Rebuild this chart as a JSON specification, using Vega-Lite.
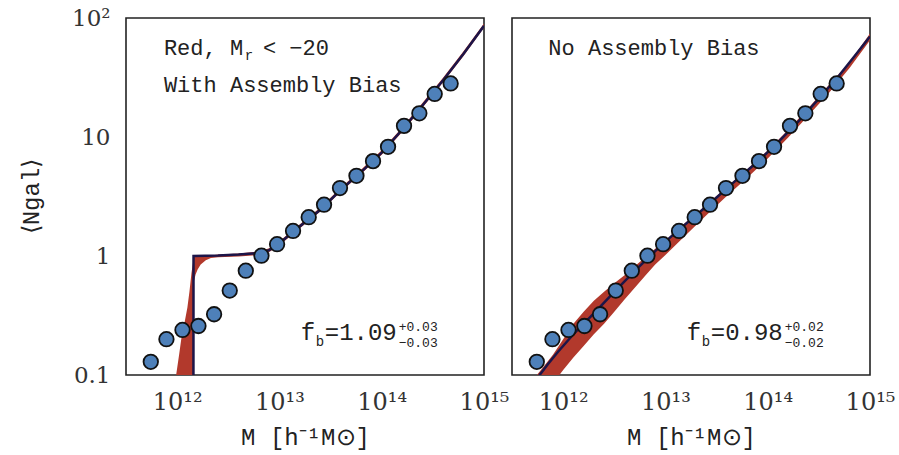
{
  "$schema": "https://vega.github.io/schema/vega-lite/v6.json",
  "background": "white",
  "padding": {"left": 18, "top": 6, "right": 5, "bottom": 5},
  "spacing": 28,
  "bounds": "flush",
  "config": {
    "view": {"stroke": "#222", "strokeWidth": 1.6},
    "axis": {"ticks": false, "labelFont": "DejaVu Serif", "labelColor": "#333", "titleFont": "Liberation Mono", "titleFontSize": 24, "titleFontWeight": "normal", "titleColor": "#222", "domain": false, "grid": false, "labelFlush": false, "labelOverlap": false, "labelBound": false},
    "tick": {"color": "#333", "thickness": 1.8, "opacity": 1}
  },
  "datasets": {
    "xmaj": [{"M": 1e12}, {"M": 1e13}, {"M": 1e14}],
    "xmin": [
      {"M": 4e11}, {"M": 5e11}, {"M": 6e11}, {"M": 7e11}, {"M": 8e11}, {"M": 9e11},
      {"M": 2e12}, {"M": 3e12}, {"M": 4e12}, {"M": 5e12}, {"M": 6e12}, {"M": 7e12}, {"M": 8e12}, {"M": 9e12},
      {"M": 2e13}, {"M": 3e13}, {"M": 4e13}, {"M": 5e13}, {"M": 6e13}, {"M": 7e13}, {"M": 8e13}, {"M": 9e13},
      {"M": 2e14}, {"M": 3e14}, {"M": 4e14}, {"M": 5e14}, {"M": 6e14}, {"M": 7e14}, {"M": 8e14}, {"M": 9e14}
    ],
    "ymaj": [{"N": 1}, {"N": 10}],
    "ymin": [
      {"N": 0.2}, {"N": 0.3}, {"N": 0.4}, {"N": 0.5}, {"N": 0.6}, {"N": 0.7}, {"N": 0.8}, {"N": 0.9},
      {"N": 2}, {"N": 3}, {"N": 4}, {"N": 5}, {"N": 6}, {"N": 7}, {"N": 8}, {"N": 9},
      {"N": 20}, {"N": 30}, {"N": 40}, {"N": 50}, {"N": 60}, {"N": 70}, {"N": 80}, {"N": 90}
    ],
    "pts": [
      {"M": 5.521e11, "N": 0.129}, {"M": 7.852e11, "N": 0.200}, {"M": 1.127e12, "N": 0.239}, {"M": 1.614e12, "N": 0.258},
      {"M": 2.296e12, "N": 0.324}, {"M": 3.266e12, "N": 0.512}, {"M": 4.688e12, "N": 0.753}, {"M": 6.668e12, "N": 1.007},
      {"M": 9.484e12, "N": 1.256}, {"M": 1.358e13, "N": 1.625}, {"M": 1.932e13, "N": 2.12}, {"M": 2.729e13, "N": 2.70},
      {"M": 3.908e13, "N": 3.72}, {"M": 5.662e13, "N": 4.72}, {"M": 8.222e13, "N": 6.27}, {"M": 1.153e14, "N": 8.27},
      {"M": 1.652e14, "N": 12.4}, {"M": 2.333e14, "N": 15.8}, {"M": 3.296e14, "N": 23.0}, {"M": 4.721e14, "N": 28.2}
    ],
    "navyL": [
      {"M": 1.442e12, "N": 0.05}, {"M": 1.445e12, "N": 1.0}, {"M": 2.512e12, "N": 1.01}, {"M": 3.981e12, "N": 1.03},
      {"M": 6.31e12, "N": 1.06}, {"M": 7.943e12, "N": 1.12}, {"M": 1e13, "N": 1.28}, {"M": 1.585e13, "N": 1.78},
      {"M": 2.512e13, "N": 2.45}, {"M": 3.981e13, "N": 3.6}, {"M": 6.31e13, "N": 5.1}, {"M": 1e14, "N": 7.4},
      {"M": 1.585e14, "N": 11.5}, {"M": 2.512e14, "N": 18.5}, {"M": 3.981e14, "N": 30}, {"M": 6.31e14, "N": 50}, {"M": 1e15, "N": 86}
    ],
    "bandL": [
      {"M": 8.913e11, "N": 0.05, "N2": 0.08}, {"M": 9.772e11, "N": 0.05, "N2": 0.1}, {"M": 1.047e12, "N": 0.05, "N2": 0.15},
      {"M": 1.096e12, "N": 0.05, "N2": 0.2}, {"M": 1.175e12, "N": 0.05, "N2": 0.27}, {"M": 1.259e12, "N": 0.05, "N2": 0.37},
      {"M": 1.318e12, "N": 0.05, "N2": 0.5}, {"M": 1.38e12, "N": 0.05, "N2": 0.72}, {"M": 1.429e12, "N": 0.05, "N2": 0.88},
      {"M": 1.442e12, "N": 0.05, "N2": 0.97}, {"M": 1.449e12, "N": 0.6, "N2": 1.0}, {"M": 1.514e12, "N": 0.7, "N2": 1.005},
      {"M": 1.585e12, "N": 0.77, "N2": 1.005}, {"M": 1.698e12, "N": 0.85, "N2": 1.007}, {"M": 1.905e12, "N": 0.92, "N2": 1.008},
      {"M": 2.138e12, "N": 0.96, "N2": 1.01}, {"M": 2.512e12, "N": 0.975, "N2": 1.03}, {"M": 3.981e12, "N": 0.99, "N2": 1.05},
      {"M": 6.31e12, "N": 1.02, "N2": 1.09}, {"M": 7.943e12, "N": 1.08, "N2": 1.16}, {"M": 1e13, "N": 1.23, "N2": 1.33},
      {"M": 1.585e13, "N": 1.71, "N2": 1.85}, {"M": 2.512e13, "N": 2.36, "N2": 2.55}, {"M": 3.981e13, "N": 3.46, "N2": 3.75},
      {"M": 6.31e13, "N": 4.9, "N2": 5.32}, {"M": 1e14, "N": 7.1, "N2": 7.75}, {"M": 1.585e14, "N": 11.0, "N2": 12.0},
      {"M": 2.512e14, "N": 17.7, "N2": 19.4}, {"M": 3.981e14, "N": 28.8, "N2": 31.5}, {"M": 6.31e14, "N": 48, "N2": 52.5},
      {"M": 1e15, "N": 83, "N2": 90}
    ],
    "navyR": [
      {"M": 5.012e11, "N": 0.083}, {"M": 5.888e11, "N": 0.1}, {"M": 7.079e11, "N": 0.123}, {"M": 8.913e11, "N": 0.157},
      {"M": 1.259e12, "N": 0.22}, {"M": 1.995e12, "N": 0.33}, {"M": 3.162e12, "N": 0.5}, {"M": 5.012e12, "N": 0.75},
      {"M": 7.943e12, "N": 1.1}, {"M": 1.259e13, "N": 1.58}, {"M": 1.995e13, "N": 2.2}, {"M": 3.162e13, "N": 3.1},
      {"M": 5.012e13, "N": 4.4}, {"M": 7.943e13, "N": 6.2}, {"M": 1.259e14, "N": 9.0}, {"M": 1.995e14, "N": 13.5},
      {"M": 3.162e14, "N": 21}, {"M": 5.012e14, "N": 33}, {"M": 7.079e14, "N": 48}, {"M": 1e15, "N": 70}
    ],
    "bandR": [
      {"M": 5.012e11, "N": 0.05, "N2": 0.09}, {"M": 6.31e11, "N": 0.07, "N2": 0.115}, {"M": 7.943e11, "N": 0.085, "N2": 0.148},
      {"M": 1e12, "N": 0.11, "N2": 0.2}, {"M": 1.259e12, "N": 0.14, "N2": 0.27}, {"M": 1.585e12, "N": 0.175, "N2": 0.34},
      {"M": 1.995e12, "N": 0.22, "N2": 0.42}, {"M": 2.512e12, "N": 0.27, "N2": 0.5}, {"M": 3.162e12, "N": 0.34, "N2": 0.59},
      {"M": 3.981e12, "N": 0.43, "N2": 0.69}, {"M": 5.012e12, "N": 0.54, "N2": 0.82}, {"M": 6.31e12, "N": 0.68, "N2": 0.97},
      {"M": 7.943e12, "N": 0.85, "N2": 1.15}, {"M": 1e13, "N": 1.02, "N2": 1.35}, {"M": 1.585e13, "N": 1.5, "N2": 1.92},
      {"M": 2.512e13, "N": 2.2, "N2": 2.68}, {"M": 3.981e13, "N": 3.2, "N2": 3.8}, {"M": 6.31e13, "N": 4.55, "N2": 5.35},
      {"M": 1e14, "N": 6.6, "N2": 7.7}, {"M": 1.585e14, "N": 9.9, "N2": 11.5}, {"M": 2.512e14, "N": 15.2, "N2": 17.6},
      {"M": 3.981e14, "N": 23.5, "N2": 27.5}, {"M": 6.31e14, "N": 38, "N2": 42.5}, {"M": 1e15, "N": 65, "N2": 74}
    ],
    "ann": [
      {"p": "L", "c": "big", "M": 7.42e11, "N": 49.1, "t": "Red, M"},
      {"p": "L", "c": "sub", "M": 4.58e12, "N": 44.6, "t": "r"},
      {"p": "L", "c": "big", "M": 6.9e12, "N": 49.1, "t": "<  −20"},
      {"p": "L", "c": "big", "M": 7.42e11, "N": 24.0, "t": "With Assembly Bias"},
      {"p": "L", "c": "fb", "M": 1.615e13, "N": 0.197, "t": "f"},
      {"p": "L", "c": "sub", "M": 2.263e13, "N": 0.1754, "t": "b"},
      {"p": "L", "c": "fb", "M": 2.773e13, "N": 0.197, "t": "=1.09"},
      {"p": "L", "c": "scr", "M": 1.466e14, "N": 0.2344, "t": "+0.03"},
      {"p": "L", "c": "scr", "M": 1.466e14, "N": 0.172, "t": "−0.03"},
      {"p": "R", "c": "big", "M": 7.16e11, "N": 49.1, "t": "No Assembly Bias"},
      {"p": "R", "c": "fb", "M": 1.615e13, "N": 0.197, "t": "f"},
      {"p": "R", "c": "sub", "M": 2.263e13, "N": 0.1754, "t": "b"},
      {"p": "R", "c": "fb", "M": 2.773e13, "N": 0.197, "t": "=0.98"},
      {"p": "R", "c": "scr", "M": 1.466e14, "N": 0.2344, "t": "+0.02"},
      {"p": "R", "c": "scr", "M": 1.466e14, "N": 0.172, "t": "−0.02"}
    ]
  },
  "hconcat": [
    {
      "width": 358, "height": 357,
      "encoding": {
        "x": {"field": "M", "type": "quantitative", "scale": {"type": "log", "domain": [3.16e11, 1e15], "nice": false, "zero": false}, "axis": null},
        "y": {"field": "N", "type": "quantitative", "scale": {"type": "log", "domain": [0.1, 100], "nice": false, "zero": false}, "axis": null}
      },
      "resolve": {"axis": {"x": "independent", "y": "independent"}},
      "layer": [
        {
          "data": {"name": "bandL"},
          "mark": {"type": "area", "color": "#b2392c", "clip": true},
          "encoding": {
            "x": {"field": "M", "type": "quantitative", "scale": {"type": "log", "domain": [3.16e11, 1e15], "nice": false, "zero": false},
              "axis": {"orient": "bottom", "title": "M [h⁻¹M⊙]", "titleY": 62, "titleBaseline": "middle", "labelFontSize": 24, "labelPadding": 15,
                "values": [1e12, 1e13, 1e14, 1e15],
                "labelExpr": "datum.value==1e12?'10¹²':datum.value==1e13?'10¹³':datum.value==1e14?'10¹⁴':'10¹⁵'"}},
            "y": {"field": "N", "type": "quantitative", "scale": {"type": "log", "domain": [0.1, 100], "nice": false, "zero": false},
              "axis": {"orient": "left", "title": "⟨Ngal⟩", "titleX": -95, "titleY": 178, "titleAngle": -90, "titleBaseline": "middle", "titleAlign": "center", "labelFontSize": 23, "labelPadding": 16,
                "values": [0.1, 1, 10, 100],
                "labelExpr": "datum.value==0.1?'0.1':datum.value==1?'1':datum.value==10?'10':'10²'"}},
            "y2": {"field": "N2"}
          }
        },
        {"data": {"name": "navyL"}, "mark": {"type": "line", "color": "#1c1549", "strokeWidth": 2.5, "clip": true}, "encoding": {}},
        {"data": {"name": "xmaj"}, "mark": {"type": "tick", "orient": "vertical", "size": 18, "yOffset": -9},
          "encoding": {"y": {"datum": 0.1, "type": "quantitative"}}},
        {"data": {"name": "xmin"}, "mark": {"type": "tick", "orient": "vertical", "size": 8, "yOffset": -4},
          "encoding": {"y": {"datum": 0.1, "type": "quantitative"}}},
        {"data": {"name": "xmaj"}, "mark": {"type": "tick", "orient": "vertical", "size": 18, "yOffset": 9},
          "encoding": {"y": {"datum": 100, "type": "quantitative"}}},
        {"data": {"name": "xmin"}, "mark": {"type": "tick", "orient": "vertical", "size": 8, "yOffset": 4},
          "encoding": {"y": {"datum": 100, "type": "quantitative"}}},
        {"data": {"name": "ymaj"}, "mark": {"type": "tick", "orient": "horizontal", "size": 18, "xOffset": 9},
          "encoding": {"x": {"datum": 3.16e11, "type": "quantitative"}}},
        {"data": {"name": "ymin"}, "mark": {"type": "tick", "orient": "horizontal", "size": 8, "xOffset": 4},
          "encoding": {"x": {"datum": 3.16e11, "type": "quantitative"}}},
        {"data": {"name": "ymaj"}, "mark": {"type": "tick", "orient": "horizontal", "size": 18, "xOffset": -9},
          "encoding": {"x": {"datum": 1e15, "type": "quantitative"}}},
        {"data": {"name": "ymin"}, "mark": {"type": "tick", "orient": "horizontal", "size": 8, "xOffset": -4},
          "encoding": {"x": {"datum": 1e15, "type": "quantitative"}}},
        {"data": {"name": "pts"}, "mark": {"type": "circle", "size": 210, "fill": "#4e80b9", "stroke": "#111", "strokeWidth": 1.8, "opacity": 1}, "encoding": {}},
        {"data": {"name": "ann"}, "transform": [{"filter": "datum.p=='L' && datum.c=='big'"}],
          "mark": {"type": "text", "align": "left", "baseline": "alphabetic", "font": "Liberation Mono", "fontSize": 22, "color": "#222"},
          "encoding": {"text": {"field": "t"}}},
        {"data": {"name": "ann"}, "transform": [{"filter": "datum.p=='L' && datum.c=='sub'"}],
          "mark": {"type": "text", "align": "left", "baseline": "alphabetic", "font": "Liberation Mono", "fontSize": 14, "color": "#222"},
          "encoding": {"text": {"field": "t"}}},
        {"data": {"name": "ann"}, "transform": [{"filter": "datum.p=='L' && datum.c=='fb'"}],
          "mark": {"type": "text", "align": "left", "baseline": "alphabetic", "font": "Liberation Mono", "fontSize": 24, "color": "#222"},
          "encoding": {"text": {"field": "t"}}},
        {"data": {"name": "ann"}, "transform": [{"filter": "datum.p=='L' && datum.c=='scr'"}],
          "mark": {"type": "text", "align": "left", "baseline": "alphabetic", "font": "Liberation Mono", "fontSize": 13, "color": "#222"},
          "encoding": {"text": {"field": "t"}}}
      ]
    },
    {
      "width": 358, "height": 357,
      "encoding": {
        "x": {"field": "M", "type": "quantitative", "scale": {"type": "log", "domain": [3.16e11, 1e15], "nice": false, "zero": false}, "axis": null},
        "y": {"field": "N", "type": "quantitative", "scale": {"type": "log", "domain": [0.1, 100], "nice": false, "zero": false}, "axis": null}
      },
      "resolve": {"axis": {"x": "independent", "y": "independent"}},
      "layer": [
        {
          "data": {"name": "bandR"},
          "mark": {"type": "area", "color": "#b2392c", "clip": true},
          "encoding": {
            "x": {"field": "M", "type": "quantitative", "scale": {"type": "log", "domain": [3.16e11, 1e15], "nice": false, "zero": false},
              "axis": {"orient": "bottom", "title": "M [h⁻¹M⊙]", "titleY": 62, "titleBaseline": "middle", "labelFontSize": 24, "labelPadding": 15,
                "values": [1e12, 1e13, 1e14, 1e15],
                "labelExpr": "datum.value==1e12?'10¹²':datum.value==1e13?'10¹³':datum.value==1e14?'10¹⁴':'10¹⁵'"}},
            "y2": {"field": "N2"}
          }
        },
        {"data": {"name": "navyR"}, "mark": {"type": "line", "color": "#1c1549", "strokeWidth": 2.5, "clip": true}, "encoding": {}},
        {"data": {"name": "xmaj"}, "mark": {"type": "tick", "orient": "vertical", "size": 18, "yOffset": -9},
          "encoding": {"y": {"datum": 0.1, "type": "quantitative"}}},
        {"data": {"name": "xmin"}, "mark": {"type": "tick", "orient": "vertical", "size": 8, "yOffset": -4},
          "encoding": {"y": {"datum": 0.1, "type": "quantitative"}}},
        {"data": {"name": "xmaj"}, "mark": {"type": "tick", "orient": "vertical", "size": 18, "yOffset": 9},
          "encoding": {"y": {"datum": 100, "type": "quantitative"}}},
        {"data": {"name": "xmin"}, "mark": {"type": "tick", "orient": "vertical", "size": 8, "yOffset": 4},
          "encoding": {"y": {"datum": 100, "type": "quantitative"}}},
        {"data": {"name": "ymaj"}, "mark": {"type": "tick", "orient": "horizontal", "size": 18, "xOffset": 9},
          "encoding": {"x": {"datum": 3.16e11, "type": "quantitative"}}},
        {"data": {"name": "ymin"}, "mark": {"type": "tick", "orient": "horizontal", "size": 8, "xOffset": 4},
          "encoding": {"x": {"datum": 3.16e11, "type": "quantitative"}}},
        {"data": {"name": "ymaj"}, "mark": {"type": "tick", "orient": "horizontal", "size": 18, "xOffset": -9},
          "encoding": {"x": {"datum": 1e15, "type": "quantitative"}}},
        {"data": {"name": "ymin"}, "mark": {"type": "tick", "orient": "horizontal", "size": 8, "xOffset": -4},
          "encoding": {"x": {"datum": 1e15, "type": "quantitative"}}},
        {"data": {"name": "pts"}, "mark": {"type": "circle", "size": 210, "fill": "#4e80b9", "stroke": "#111", "strokeWidth": 1.8, "opacity": 1}, "encoding": {}},
        {"data": {"name": "ann"}, "transform": [{"filter": "datum.p=='R' && datum.c=='big'"}],
          "mark": {"type": "text", "align": "left", "baseline": "alphabetic", "font": "Liberation Mono", "fontSize": 22, "color": "#222"},
          "encoding": {"text": {"field": "t"}}},
        {"data": {"name": "ann"}, "transform": [{"filter": "datum.p=='R' && datum.c=='sub'"}],
          "mark": {"type": "text", "align": "left", "baseline": "alphabetic", "font": "Liberation Mono", "fontSize": 14, "color": "#222"},
          "encoding": {"text": {"field": "t"}}},
        {"data": {"name": "ann"}, "transform": [{"filter": "datum.p=='R' && datum.c=='fb'"}],
          "mark": {"type": "text", "align": "left", "baseline": "alphabetic", "font": "Liberation Mono", "fontSize": 24, "color": "#222"},
          "encoding": {"text": {"field": "t"}}},
        {"data": {"name": "ann"}, "transform": [{"filter": "datum.p=='R' && datum.c=='scr'"}],
          "mark": {"type": "text", "align": "left", "baseline": "alphabetic", "font": "Liberation Mono", "fontSize": 13, "color": "#222"},
          "encoding": {"text": {"field": "t"}}}
      ]
    }
  ]
}
